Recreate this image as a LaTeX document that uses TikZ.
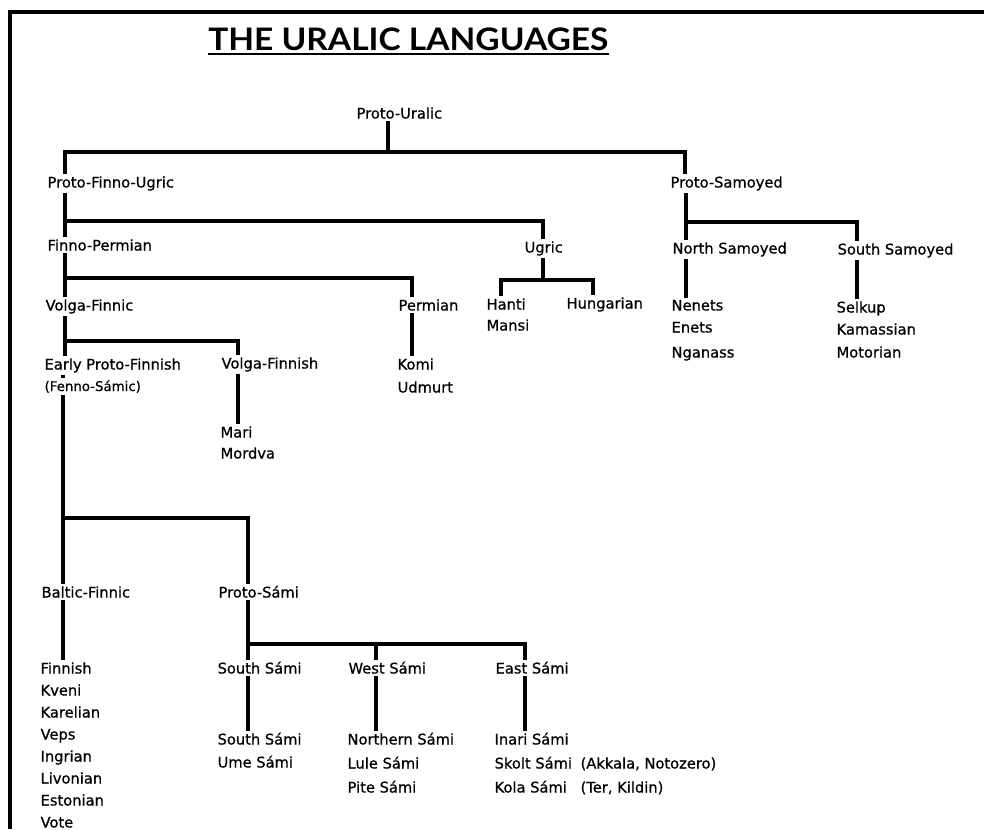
\documentclass[tikz,border=0pt]{standalone}
\usepackage{fontspec}
\usepackage{graphicx}
\setmainfont{DejaVu Sans}
\newfontfamily\lblfam{DejaVu Sans}[FakeBold=0.7]
\newfontfamily\titlefont{Lato}
\usetikzlibrary{backgrounds}

\newcommand{\lblfont}{\lblfam\fontsize{11}{13}\selectfont}
\newcommand{\notefont}{\lblfam\fontsize{10}{12}\selectfont}

\begin{document}
\begin{tikzpicture}[x=0.75pt, y=-0.75pt,
  lbl/.style={anchor=base west, fill=white, inner xsep=1pt, inner ysep=1.5pt, font=\lblfont},
  note/.style={lbl, font=\notefont},
  br/.style={line width=3pt, line cap=butt},
  frame/.style={line width=2.4pt}]

\useasboundingbox (0,0) rectangle (984,829);

% ---------- title ----------
\node[anchor=base west, inner sep=0] (title) at (208,50)
  {\resizebox{300pt}{17pt}{\titlefont\bfseries THE URALIC LANGUAGES}};

% ---------- labels (base line = centre + 5.5) ----------
\node[lbl] (pu)  at (355,118.5) {Proto-Uralic};
\node[lbl] (pfu) at (46,187.5)  {Proto-Finno-Ugric};
\node[lbl] (ps)  at (669,187.5) {Proto-Samoyed};
\node[lbl] (fp)  at (46,250.5)  {Finno-Permian};
\node[lbl] (ug)  at (523,252.5) {Ugric};
\node[lbl] (vf)  at (44,310.5)  {Volga-Finnic};
\node[lbl] (pm)  at (397,310.5) {Permian};
\node[lbl] (epf) at (43,369.5)  {Early Proto-Finnish};
\node[note] (fs) at (43,391)    {(Fenno-Sámic)};
\node[lbl] (vfi) at (220,368.5) {Volga-Finnish};
\node[lbl] (mari)   at (219,437.5) {Mari};
\node[lbl] (mordva) at (219,458.5) {Mordva};
\node[lbl] (komi)   at (396,369.5) {Komi};
\node[lbl] (udmurt) at (396,392.5) {Udmurt};
\node[lbl] (hanti)  at (485,309.5) {Hanti};
\node[lbl] (mansi)  at (485,330.5) {Mansi};
\node[lbl] (hun)    at (565,308.5) {Hungarian};
\node[lbl] (ns)  at (671,253.5) {North Samoyed};
\node[lbl] (sso) at (836,254.5) {South Samoyed};
\node[lbl] (nenets)  at (670,310.5) {Nenets};
\node[lbl] (enets)   at (670,332.5) {Enets};
\node[lbl] (nganass) at (670,357.5) {Nganass};
\node[lbl] (selkup)    at (835,312.5) {Selkup};
\node[lbl] (kamassian) at (835,334.5) {Kamassian};
\node[lbl] (motorian)  at (835,357.5) {Motorian};
\node[lbl] (bf)  at (40,597.5)  {Baltic-Finnic};
\node[lbl] (psa) at (217,597.5) {Proto-Sámi};
\foreach \lang [count=\i] in {Finnish,Kveni,Karelian,Veps,Ingrian,Livonian,Estonian,Vote}
  \node[lbl] (bfl\i) at (39,{673.5+(\i-1)*22}) {\lang};
\node[lbl] (sSa) at (216,673.5) {South Sámi};
\node[lbl] (wSa) at (347,673.5) {West Sámi};
\node[lbl] (eSa) at (494,673.5) {East Sámi};
\node[lbl] (ssl1) at (216,744.5) {South Sámi};
\node[lbl] (ssl2) at (216,767.5) {Ume Sámi};
\node[lbl] (wsl1) at (346,744.5) {Northern Sámi};
\node[lbl] (wsl2) at (346,768.5) {Lule Sámi};
\node[lbl] (wsl3) at (346,792.5) {Pite Sámi};
\node[lbl] (esl1) at (493,744.5) {Inari Sámi};
\node[lbl] (esl2) at (493,768.5) {\makebox[64.5pt][l]{Skolt Sámi}(Akkala, Notozero)};
\node[lbl] (esl3) at (493,792.5) {\makebox[64.5pt][l]{Kola Sámi}(Ter, Kildin)};

% ---------- junction points of the tree ----------
\coordinate (j0)  at (388,152);  % under Proto-Uralic
\coordinate (b0l) at (65,152);   \coordinate (b0r) at (685,152);
\coordinate (tA)  at (65,0);     % upper Finno-Ugric trunk
\coordinate (tB)  at (63,0);     % lower Finnic trunk
\coordinate (b1)  at (543,221);  % branch to Ugric
\coordinate (b2)  at (412,278);  % branch to Permian
\coordinate (b3)  at (238,341);  % branch to Volga-Finnish
\coordinate (b4)  at (248,518);  % branch to Proto-Sámi
\coordinate (ugl) at (501,280);  \coordinate (ugr) at (593,280);
\coordinate (psx) at (686,222);  \coordinate (psr) at (857,222);
\coordinate (sml) at (248,644);  \coordinate (smw) at (376,644);
\coordinate (sme) at (525,644);

\begin{scope}[on background layer]
  \fill[white] (0,0) rectangle (984,829);
  % page frame
  \draw[frame] (10,829) -- (10,12) -- (984,12);
  % title underline
  \draw[line width=2.2pt] ([yshift=-3pt]title.base west) -- ([yshift=-3pt]title.base east);

  % Proto-Uralic
  \draw[br] (pu.center -| j0) -- (j0);
  \draw[br] (pfu.center -| b0l) -- (b0l) -- (b0r) -- (ps.center -| b0r);

  % Finno-Ugric trunk and its branches
  \draw[br] (pfu.center -| tA) -- (fp.center -| tA) -- (vf.center -| tA) -- (epf.center -| tA);
  \draw[br] (b1 -| tA) -- (b1) -- (ug.center -| b1);
  \draw[br] (b2 -| tA) -- (b2) -- (pm.center -| b2);
  \draw[br] (b3 -| tA) -- (b3) -- (vfi.center -| b3);
  \draw[br] (vfi.center -| b3) -- (mari.center -| b3);
  \draw[br] (pm.center -| b2) -- (komi.center -| b2);

  % Ugric
  \draw[br] (ug.center -| b1) -- (ugl -| b1);
  \draw[br] (hanti.center -| ugl) -- (ugl) -- (ugr) -- (hun.center -| ugr);

  % Samoyed
  \draw[br] (ps.center -| psx) -- (ns.center -| psx);
  \draw[br] (psx) -- (psr) -- (sso.center -| psr);
  \draw[br] (ns.center -| psx) -- (nenets.center -| psx);
  \draw[br] (sso.center -| psr) -- (selkup.center -| psr);

  % Finnic trunk
  \draw[br] (epf.center -| tB) -- (fs.center -| tB) -- (bf.center -| tB) -- (bfl1.center -| tB);
  \draw[br] (b4 -| tB) -- (b4) -- (psa.center -| b4);

  % Sámi
  \draw[br] (psa.center -| sml) -- (sSa.center -| sml) -- (ssl1.center -| sml);
  \draw[br] (sml) -- (sme) -- (eSa.center -| sme) -- (esl1.center -| sme);
  \draw[br] (smw) -- (wSa.center -| smw) -- (wsl1.center -| smw);
\end{scope}
\end{tikzpicture}
\end{document}
